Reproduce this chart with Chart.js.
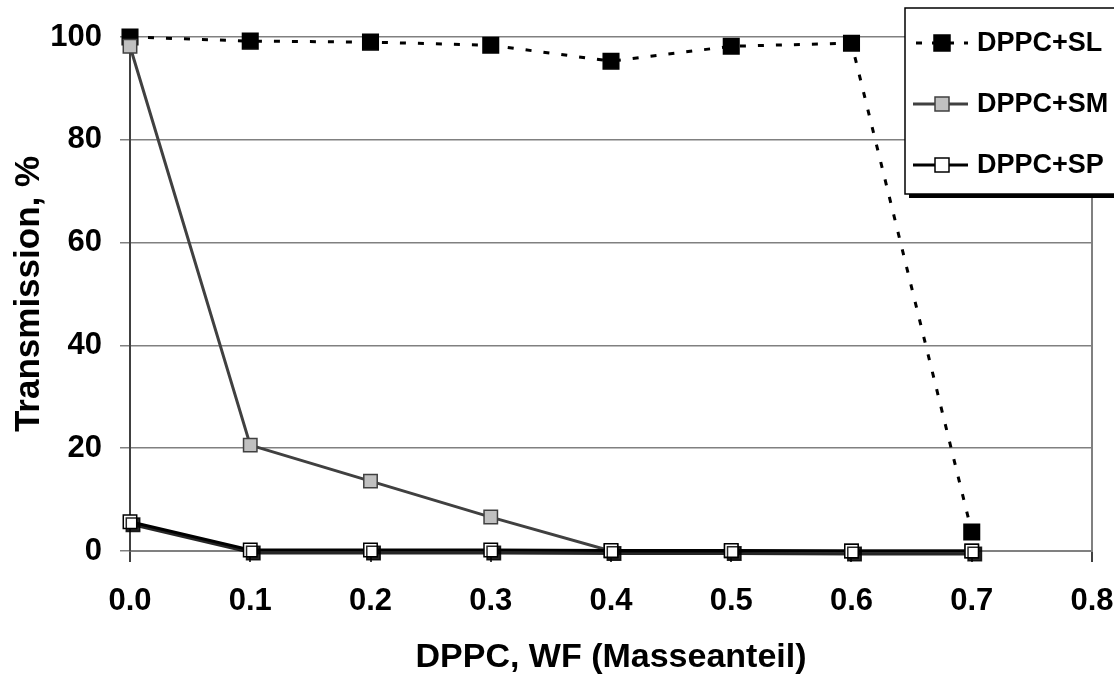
<!DOCTYPE html>
<html>
<head>
<meta charset="utf-8">
<script src="https://cdn.jsdelivr.net/npm/chart.js@4.4.1/dist/chart.umd.min.js"></script>
<style>
  html, body { margin: 0; padding: 0; background: #fff; }
  #chart { display: block; }
</style>
</head>
<body>
<canvas id="chart" width="1114" height="678"></canvas>
<script>
// values
const massFraction = [0.0, 0.1, 0.2, 0.3, 0.4, 0.5, 0.6, 0.7];
const seriesNames = ['DPPC+SL', 'DPPC+SM', 'DPPC+SP'];
const transSL = [100, 99.2, 99.0, 98.4, 95.3, 98.2, 98.8, 3.7];
const transSM = [98.2, 20.6, 13.6, 6.6, 0, 0, 0, 0];
const transSP = [5.7, 0.2, 0.2, 0.2, 0.1, 0.1, 0, 0];
const xTicks = [0, 0.1, 0.2, 0.3, 0.4, 0.5, 0.6, 0.7, 0.8];
const yTicks = [0, 20, 40, 60, 80, 100];

const FONT = '"Liberation Sans", Arial, sans-serif';

const toPoints = ys => massFraction.map((x, i) => ({ x, y: ys[i] }));

const styles = [
  { line: '#000', fill: '#000', dash: [6, 12], width: 3, radius: 11 },
  { line: '#404040', fill: '#c0c0c0', dash: [], width: 3, radius: 9.5 },
  { line: '#000', fill: '#fff', dash: [], width: 3, radius: 9.5 },
];

// drop shadow under the SP markers/line, like the original
const shadowPlugin = {
  id: 'spShadow',
  beforeDatasetDraw(chart, args) {
    if (args.index !== 2) return;
    const ctx = chart.ctx;
    ctx.save();
    ctx.shadowColor = 'rgba(0,0,0,0.85)';
    ctx.shadowOffsetX = 3;
    ctx.shadowOffsetY = 3;
    ctx.shadowBlur = 0;
  },
  afterDatasetDraw(chart, args) {
    if (args.index !== 2) return;
    chart.ctx.restore();
  },
};

// legend box in the top right corner, cut off by the edge
const legendPlugin = {
  id: 'boxLegend',
  afterDraw(chart) {
    const ctx = chart.ctx;
    ctx.save();
    ctx.shadowColor = '#000';
    ctx.shadowOffsetX = 4;
    ctx.shadowOffsetY = 4;
    ctx.fillStyle = '#fff';
    ctx.fillRect(905, 8, 230, 186);
    ctx.shadowColor = 'transparent';
    ctx.strokeStyle = '#000';
    ctx.lineWidth = 1.5;
    ctx.strokeRect(905, 8, 230, 186);

    const rowsY = [43, 104, 165];
    seriesNames.forEach((name, i) => {
      const st = styles[i];
      const y = rowsY[i];
      ctx.strokeStyle = st.line;
      ctx.lineWidth = st.width;
      ctx.setLineDash(st.dash.length ? [6, 10] : []);
      ctx.beginPath();
      ctx.moveTo(i === 0 ? 916 : 913, y);
      ctx.lineTo(968, y);
      ctx.stroke();
      ctx.setLineDash([]);
      const s = i === 0 ? 16 : 14;
      ctx.fillStyle = st.fill;
      ctx.fillRect(942 - s / 2, y - s / 2, s, s);
      ctx.lineWidth = 1.5;
      ctx.strokeStyle = i === 1 ? '#404040' : '#000';
      ctx.strokeRect(942 - s / 2, y - s / 2, s, s);

      ctx.fillStyle = '#000';
      ctx.font = 'bold 27px ' + FONT;
      ctx.textBaseline = 'middle';
      ctx.textAlign = 'left';
      ctx.fillText(name, 977, y + 1);
    });
    ctx.restore();
  },
};

new Chart(document.getElementById('chart'), {
  type: 'line',
  data: {
    datasets: [transSL, transSM, transSP].map((vals, i) => ({
      label: seriesNames[i],
      data: toPoints(vals),
      borderColor: styles[i].line,
      borderWidth: styles[i].width,
      borderDash: styles[i].dash,
      pointStyle: 'rect',
      pointRadius: styles[i].radius,
      pointHoverRadius: styles[i].radius,
      pointBackgroundColor: styles[i].fill,
      pointBorderColor: i === 1 ? '#404040' : '#000',
      pointBorderWidth: 1.5,
      tension: 0,
      order: 2 - i,
      clip: false,
    })),
  },
  options: {
    responsive: false,
    animation: false,
    layout: { padding: { top: 37, right: 22, left: 0, bottom: 0 } },
    plugins: {
      legend: { display: false },
      tooltip: { enabled: false },
    },
    scales: {
      x: {
        type: 'linear',
        min: 0,
        max: 0.8,
        afterBuildTicks: s => { s.ticks = xTicks.map(v => ({ value: v })); },
        afterFit: s => {
          s.height = 127;
          s.paddingLeft = 0;
          s.paddingRight = 0;
        },
        ticks: {
          color: '#000',
          font: { family: FONT, size: 31, weight: 'bold' },
          padding: 21,
          maxRotation: 0,
          callback: v => v.toFixed(1),
        },
        grid: {
          color: c => (c.tick && c.tick.value === 0.8 ? '#808080' : 'rgba(0,0,0,0)'),
          tickColor: '#404040',
          lineWidth: 2,
          tickLength: 11,
        },
        border: { display: true, color: '#808080', width: 2 },
        title: {
          display: true,
          text: 'DPPC, WF (Masseanteil)',
          color: '#000',
          font: { family: FONT, size: 34, weight: 'bold' },
          padding: { top: 4, bottom: 0 },
        },
      },
      y: {
        min: 0,
        max: 100,
        afterBuildTicks: s => { s.ticks = yTicks.map(v => ({ value: v })); },
        afterFit: s => { s.width = 130; },
        ticks: {
          color: '#000',
          font: { family: FONT, size: 31, weight: 'bold' },
          padding: 18,
        },
        grid: {
          color: '#808080',
          tickColor: '#808080',
          lineWidth: 1.5,
          tickLength: 10,
        },
        border: { display: true, color: '#404040', width: 2 },
        title: {
          display: true,
          text: 'Transmission, %',
          color: '#000',
          font: { family: FONT, size: 35, weight: 'bold' },
          padding: { top: 8, bottom: 0 },
        },
      },
    },
  },
  plugins: [shadowPlugin, legendPlugin],
});
</script>
</body>
</html>
